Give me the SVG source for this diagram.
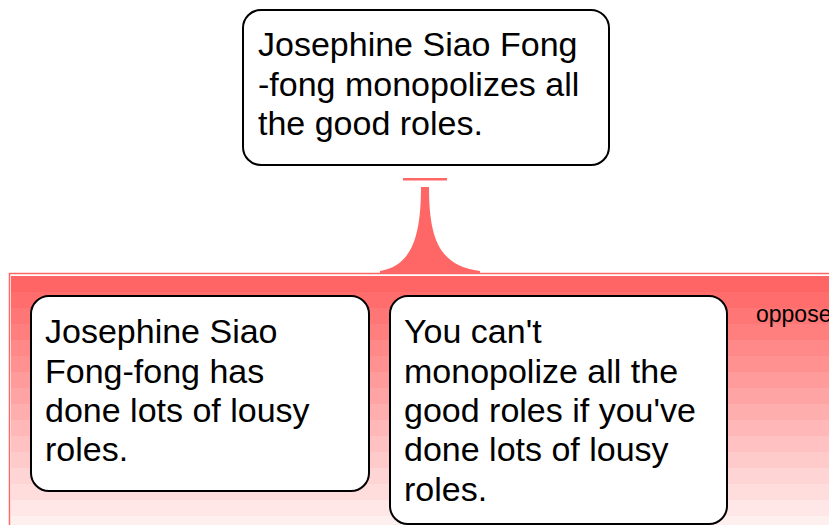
<svg xmlns="http://www.w3.org/2000/svg" width="829" height="525" viewBox="0 0 829 525">
  <style>
    .node { fill: #ffffff; stroke: #000000; stroke-width: 2; }
    .label { font-family: "Liberation Sans", Arial, sans-serif; font-size: 34px; fill: #000000; }
    .small { font-family: "Liberation Sans", Arial, sans-serif; font-size: 23px; fill: #000000; }
    .wire { fill: #ff6666; stroke: none; }
  </style>

  <rect width="829" height="525" fill="#ffffff"/>

  <!-- opposing region -->
  <g id="region">
    <rect x="9.5" y="273.5" width="830" height="260" fill="none" stroke="#ff6666" stroke-width="1.5"/>
    <g id="bands">
      <rect x="11" y="276" width="818" height="17" fill="#ff6565"/>
      <rect x="11" y="292" width="818" height="17" fill="#ff6d6d"/>
      <rect x="11" y="308" width="818" height="17" fill="#ff7676"/>
      <rect x="11" y="324" width="818" height="17" fill="#ff7f7f"/>
      <rect x="11" y="340" width="818" height="17" fill="#ff8888"/>
      <rect x="11" y="356" width="818" height="17" fill="#ff9191"/>
      <rect x="11" y="372" width="818" height="17" fill="#ff9b9b"/>
      <rect x="11" y="388" width="818" height="17" fill="#ffa4a4"/>
      <rect x="11" y="404" width="818" height="17" fill="#ffaeae"/>
      <rect x="11" y="420" width="818" height="17" fill="#ffb7b7"/>
      <rect x="11" y="436" width="818" height="17" fill="#ffc1c1"/>
      <rect x="11" y="452" width="818" height="17" fill="#ffcaca"/>
      <rect x="11" y="468" width="818" height="17" fill="#ffd4d4"/>
      <rect x="11" y="484" width="818" height="17" fill="#ffdddd"/>
      <rect x="11" y="500" width="818" height="17" fill="#ffe7e7"/>
      <rect x="11" y="516" width="818" height="17" fill="#fff0f0"/>
    </g>
    <text class="small" x="756" y="322">oppose</text>
  </g>

  <!-- connector from claim to the opposing region -->
  <g id="connectors">
    <rect class="wire" x="403" y="178" width="44" height="2.5"/>
    <path class="wire" d="M421,187 L429,187 C429,240 440,266 480,271 L480,273 L380,273 L380,271 C410,266 421,240 421,187 Z"/>
  </g>

  <g id="claim">
    <rect class="node" x="243" y="10" width="366" height="155" rx="18"/>
    <text class="label" x="258" y="56">Josephine Siao Fong</text>
    <text class="label" x="258" y="96">-fong monopolizes all</text>
    <text class="label" x="258" y="135">the good roles.</text>
  </g>

  <g id="premise1">
    <rect class="node" x="31" y="296" width="338" height="195" rx="18"/>
    <text class="label" x="45" y="343">Josephine Siao</text>
    <text class="label" x="45" y="383">Fong-fong has</text>
    <text class="label" x="45" y="422">done lots of lousy</text>
    <text class="label" x="45" y="461">roles.</text>
  </g>

  <g id="premise2">
    <rect class="node" x="390" y="296" width="337" height="228" rx="18"/>
    <text class="label" x="404" y="343">You can't</text>
    <text class="label" x="404" y="383">monopolize all the</text>
    <text class="label" x="404" y="422">good roles if you've</text>
    <text class="label" x="404" y="461">done lots of lousy</text>
    <text class="label" x="404" y="501">roles.</text>
  </g>
</svg>
